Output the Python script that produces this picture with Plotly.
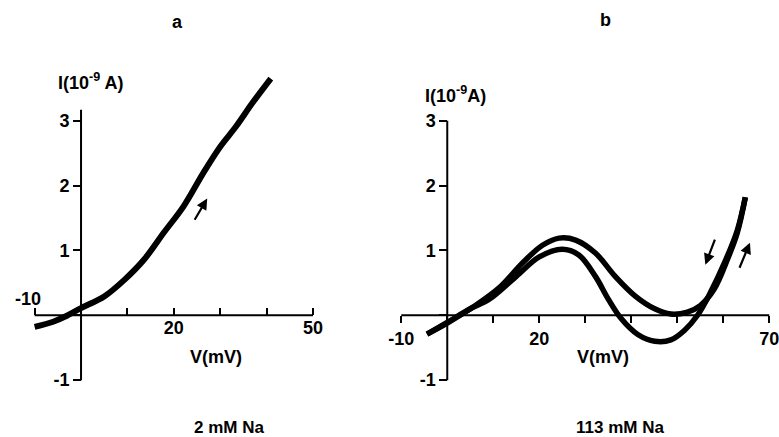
import plotly.graph_objects as go

W, H = 779, 437

# ---------------- data ----------------
# panel a : 2 mM Na
va = [-10, -6, -3.4, 0, 5, 9.4, 13.6, 17.9, 22.1, 26.4, 30, 33.4, 37, 40.9]
ia = [-0.18, -0.1, -0.02, 0.11, 0.29, 0.55, 0.86, 1.28, 1.68, 2.2, 2.6, 2.91, 3.28, 3.65]

# panel b : 113 mM Na (two branches of the hysteresis loop)
vb_up = [-4.4, 0, 5.7, 11.4, 16.4, 20.7, 24.3, 27.9, 32.2, 36.5, 40.8, 45.1, 48.6, 52.2, 55, 58, 60.9, 63, 64.8]
ib_up = [-0.29, -0.12, 0.13, 0.43, 0.81, 1.08, 1.19, 1.16, 0.96, 0.6, 0.3, 0.1, 0.02, 0.05, 0.15, 0.4, 0.86, 1.26, 1.82]
vb_lo = [-4.4, 0, 5, 9.2, 15, 20, 25, 28.6, 32.2, 35, 37.8, 41.5, 45.1, 48.6, 51.6, 54.4, 57.2, 60.2, 63, 64.8]
ib_lo = [-0.29, -0.11, 0.1, 0.25, 0.6, 0.9, 1.02, 0.93, 0.6, 0.25, -0.05, -0.3, -0.4, -0.38, -0.23, 0.0, 0.35, 0.8, 1.3, 1.82]

# sweep-direction arrows (tail V, tail I, head V, head I)
arrow_a = [(24.3, 1.45, 27.2, 1.8)]
arrow_b = [(58.3, 1.19, 56.1, 0.78), (63.4, 0.71, 65.8, 1.12)]

xticks_a = [-10, 0, 10, 20, 30, 40, 50]
xtext_a = ["", "", "", "20", "", "", "50"]
xticks_b = [-10, 0, 10, 20, 30, 40, 50, 60, 70]
xtext_b = ["-10", "", "", "20", "", "", "", "", "70"]
yticks = [-1, 0, 1, 2, 3]
ytext = ["-1", "", "1", "2", "3"]

# ---------------- layout geometry ----------------
YR = [-1.15, 3.9]
Y0PX, YSC = 316, 65.0
XR_A = [-12, 52]
X0A, XSCA = 76, 4.7
XR_B = [-11.5, 71.2]
X0B, XSCB = 447, 4.66

def ydom():
    top = Y0PX - YR[1] * YSC
    bot = Y0PX - YR[0] * YSC
    return [1 - bot / H, 1 - top / H]

def xdom(xr, x0, sc):
    return [(x0 + xr[0] * sc) / W, min(1.0, (x0 + xr[1] * sc) / W)]

ypos0 = 1 - Y0PX / H

FONT = dict(family="Liberation Sans, Arial, sans-serif", size=18, color="black", weight="bold")
BLACK = "black"

fig = go.Figure()
fig.add_trace(go.Scatter(x=va, y=ia, mode="lines", line=dict(color=BLACK, width=6, shape="spline"),
                         xaxis="x", yaxis="y", showlegend=False))
fig.add_trace(go.Scatter(x=vb_up, y=ib_up, mode="lines", line=dict(color=BLACK, width=5.5, shape="spline"),
                         xaxis="x2", yaxis="y2", showlegend=False))
fig.add_trace(go.Scatter(x=vb_lo, y=ib_lo, mode="lines", line=dict(color=BLACK, width=5.5, shape="spline"),
                         xaxis="x2", yaxis="y2", showlegend=False))

common_x = dict(showgrid=False, zeroline=False, showline=False, anchor="free", position=ypos0,
                tickcolor=BLACK, tickwidth=2, tickfont=FONT, fixedrange=True, ticklabeloverflow="allow")
common_y = dict(showgrid=False, zeroline=False, showline=False, anchor="free", range=YR, domain=ydom(),
                ticks="outside", ticklen=8, tickcolor=BLACK, tickwidth=2, tickfont=FONT,
                tickvals=yticks, ticktext=ytext, fixedrange=True)

fig.update_layout(
    width=W, height=H, margin=dict(l=0, r=0, t=0, b=0),
    paper_bgcolor="white", plot_bgcolor="rgba(0,0,0,0)",
    xaxis=dict(common_x, domain=xdom(XR_A, X0A, XSCA), range=XR_A, ticks="inside", ticklen=7,
               tickvals=xticks_a, ticktext=xtext_a),
    yaxis=dict(common_y, position=X0A / W),
    xaxis2=dict(common_x, domain=xdom(XR_B, X0B, XSCB), range=XR_B, ticks="outside", ticklen=7,
                tickvals=xticks_b, ticktext=xtext_b),
    yaxis2=dict(common_y, position=X0B / W),
)

# axis lines drawn only over the scale's extent
shapes = [
    dict(type="line", xref="x", yref="y", x0=-10, x1=50, y0=0, y1=0, line=dict(color=BLACK, width=2)),
    dict(type="line", xref="x", yref="y", x0=0, x1=0, y0=-1, y1=3.17, line=dict(color=BLACK, width=2)),
    dict(type="line", xref="x2", yref="y2", x0=-10, x1=70, y0=0, y1=0, line=dict(color=BLACK, width=2)),
    dict(type="line", xref="x2", yref="y2", x0=0, x1=0, y0=-1, y1=3, line=dict(color=BLACK, width=2)),
]
fig.update_layout(shapes=shapes)

ann = []
for (tx, ty, hx, hy) in arrow_a:
    ann.append(dict(x=hx, y=hy, ax=tx, ay=ty, xref="x", yref="y", axref="x", ayref="y",
                    showarrow=True, arrowhead=2, arrowsize=1, arrowwidth=2.2, arrowcolor=BLACK, text=""))
for (tx, ty, hx, hy) in arrow_b:
    ann.append(dict(x=hx, y=hy, ax=tx, ay=ty, xref="x2", yref="y2", axref="x2", ayref="y2",
                    showarrow=True, arrowhead=2, arrowsize=1, arrowwidth=2.2, arrowcolor=BLACK, text=""))

def txt(s, px, py, size=18):
    ann.append(dict(text=s, x=px / W, y=1 - py / H, xref="paper", yref="paper", showarrow=False,
                    xanchor="center", yanchor="middle", font=dict(FONT, size=size)))

txt("a", 174, 22)
txt("b", 607, 20)
txt("I(10<sup>-9</sup> A)", 86, 82)
txt("I(10<sup>-9</sup>A)", 455, 95)
txt("V(mV)", 213, 358)
txt("V(mV)", 605, 358)
txt("-10", 22, 300)
txt("2 mM Na", 226, 428, 17)
txt("113 mM Na", 622, 428, 17)
fig.update_layout(annotations=ann)

fig.write_html("out.html")
